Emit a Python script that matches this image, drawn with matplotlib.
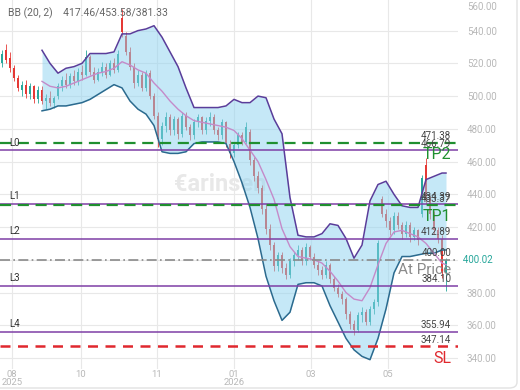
import matplotlib
matplotlib.use("Agg")
import matplotlib.pyplot as plt
from matplotlib.patches import FancyBboxPatch
from matplotlib.transforms import blended_transform_factory

plt.rcParams['font.family'] = ['Roboto', 'DejaVu Sans']

# daily candles (one entry per bar)
opens = [520, 528, 523, 517, 511, 504, 507, 501, 506, 498, 504, 497, 499, 496, 500, 506, 510, 507, 512, 509,
         515, 513, 524, 515, 510, 515, 518, 513, 520, 516, 548, 537, 527, 518, 508, 513, 505, 514, 500, 488,
         474, 482, 487, 479, 486, 477, 488, 481, 476, 484, 487, 479, 485, 487, 479, 476, 484, 471, 465, 470,
         476, 472, 478, 461, 451, 444, 431, 419, 409, 396, 403, 395, 391, 399, 403, 406, 399, 408, 402, 397,
         394, 391, 397, 388, 383, 379, 376, 367, 361, 357, 366, 368, 362, 370, 374, 437, 428, 424, 418, 427,
         421, 416, 421, 414, 418, 428, 458, 437, 428, 418, 413, 392]
highs = [528, 532, 527, 519, 513, 509, 510, 508, 507, 506, 506, 501, 503, 500, 508, 512, 514, 514, 516, 517,
         519, 528, 525, 518, 517, 521, 520, 522, 523, 528, 553, 539, 530, 520, 516, 515, 516, 516, 502, 490,
         484, 490, 489, 488, 487, 490, 490, 483, 486, 489, 488, 487, 490, 489, 481, 486, 485, 473, 472, 478,
         478, 484, 480, 463, 454, 446, 434, 422, 411, 405, 405, 398, 401, 405, 409, 408, 410, 409, 404, 399,
         396, 399, 398, 390, 385, 381, 377, 369, 363, 368, 371, 370, 372, 376, 412, 439, 431, 426, 429, 429,
         423, 424, 423, 420, 419, 452, 462, 439, 430, 420, 415, 401]
lows = [518, 520, 515, 509, 503, 500, 499, 498, 496, 496, 495, 492, 494, 493, 498, 503, 505, 505, 507, 507,
        510, 512, 513, 508, 509, 512, 511, 512, 514, 515, 536, 525, 516, 505, 506, 503, 503, 498, 486, 469,
        470, 478, 476, 476, 474, 475, 479, 473, 474, 481, 477, 477, 482, 477, 473, 474, 469, 462, 463, 468,
        470, 471, 458, 448, 441, 428, 416, 406, 393, 393, 392, 388, 389, 396, 400, 397, 397, 400, 395, 391,
        388, 389, 386, 381, 377, 373, 364, 358, 354, 356, 362, 360, 360, 367, 372, 426, 420, 415, 416, 419,
        413, 414, 411, 412, 409, 426, 434, 425, 416, 410, 389, 381]
closes = [526, 522, 517, 511, 505, 507, 501, 506, 498, 504, 497, 499, 496, 499, 506, 510, 507, 512, 509, 515,
          513, 524, 515, 510, 515, 518, 513, 520, 516, 526, 539, 527, 518, 508, 513, 505, 514, 500, 488, 474,
          482, 487, 479, 486, 477, 488, 481, 476, 484, 487, 479, 485, 487, 479, 476, 484, 471, 465, 470, 476,
          472, 481, 461, 451, 444, 431, 419, 409, 396, 403, 395, 391, 399, 403, 406, 399, 408, 402, 397, 394,
          391, 397, 388, 383, 379, 376, 367, 361, 357, 366, 368, 362, 370, 374, 410, 428, 424, 418, 427, 421,
          416, 421, 414, 418, 412, 450, 437, 428, 418, 413, 392, 400]

# Bollinger band (20, 2), read every second bar
band_x = list(range(10, 111, 2)) + [111]
bb_upper = [528, 520, 514, 517, 518, 520, 526, 526, 526, 527, 538, 538, 540, 541, 543, 536, 527, 518, 505, 493,
            493, 493, 493, 494, 498, 496, 496, 500, 499, 486, 477, 438, 415, 414, 414, 416, 422, 421, 413, 401,
            409, 436, 446, 448, 440, 433, 432, 432, 449, 451, 453, 453]
bb_mid = [509, 506, 505, 506, 508, 510, 512, 514, 515, 517, 521, 519, 516, 514, 508, 503, 497, 492, 488, 485,
          484, 483, 482, 481, 479, 474, 467, 460, 449, 437, 419, 408, 402, 401, 400, 398, 393, 387, 380, 376,
          375, 383, 397, 410, 417, 418, 416, 414, 410, 404, 398, 397]
bb_lower = [491, 492, 494, 494, 495, 496, 498, 501, 504, 507, 505, 497, 492, 489, 482, 466, 465, 465, 466, 471,
            472, 472, 472, 471, 460, 447, 432, 413, 390, 375, 363, 368, 385, 386, 386, 384, 372, 362, 352, 345,
            341, 339, 352, 370, 392, 402, 402, 403, 404, 404, 406, 406]

# horizontal levels
level_vals = [466.79, 434.39, 412.89, 384.10, 355.94]
level_names = ["L0", "L1", "L2", "L3", "L4"]
tp_vals = [471.38, 433.37]
tp_names = ["TP2", "TP1"]
sl_val = 347.14
at_price = 400.00
last_price = 400.02

month_pos = [2.5, 19.75, 38.75, 58, 77.25, 96.5]
month_labels = ["08\n2025", "10", "11", "01\n2026", "03", "05"]
price_ticks = [340, 360, 380, 420, 440, 460, 480, 500, 520, 540]

up_c, down_c = "#26a69a", "#e53935"

fig = plt.figure(figsize=(5.2, 3.9), dpi=100)
ax = fig.add_axes([0, 21 / 390, 458 / 520, 369 / 390])
ax.set_xlim(-0.5, 114)
ax.set_ylim(333.3, 558.7)

for s in ax.spines.values():
    s.set_visible(False)

# grid
for p in month_pos:
    ax.axvline(p, color="#e8e8e8", lw=0.8, zorder=0)
for v in [340, 360, 380, 400, 420, 440, 460, 480, 500, 520, 540]:
    ax.axhline(v, color="#e8e8e8", lw=0.8, zorder=0)

ax.text(0.48, 0.5, "€arinsen", transform=ax.transAxes, fontsize=17, fontweight="bold",
        color="#e8e8e8", ha="center", va="center", zorder=1)

# candles
for i in range(len(closes)):
    o, h, l, c = opens[i], highs[i], lows[i], closes[i]
    col = up_c if c >= o else down_c
    ax.vlines(i, l, h, color=col, lw=0.6, zorder=2)
    ax.bar(i, abs(c - o) if c != o else 0.3, bottom=min(o, c), width=0.4, color=col, lw=0, zorder=2)

# band
ax.fill_between(band_x, bb_lower, bb_upper, color="#8dd3f0", alpha=0.5, lw=0, zorder=3)
ax.plot(band_x, bb_upper, color="#5a3d9a", lw=1.1, zorder=4)
ax.plot(band_x, bb_lower, color="#2b6a8e", lw=1.1, zorder=4)
ax.plot(band_x, bb_mid, color="#c48ac9", lw=1.0, zorder=4)

# levels
trans = blended_transform_factory(ax.transAxes, ax.transData)
for v, name in zip(level_vals, level_names):
    ax.axhline(v, color="#7e3fa6", lw=1.1, zorder=5)
    ax.text(0.02, v + 1.5, name, transform=trans, fontsize=7, color="#333333", va="bottom", zorder=6)
    ax.text(0.985, v + 1.0, f"{v:.2f}", transform=trans, fontsize=7, color="#444444",
            ha="right", va="bottom", zorder=6)
for v, name in zip(tp_vals, tp_names):
    ax.axhline(v, color="#1f8f2f", lw=1.6, ls=(0, (5, 3)), zorder=5)
    ax.text(0.985, v + 1.0, f"{v:.2f}", transform=trans, fontsize=7, color="#444444",
            ha="right", va="bottom", zorder=6)
    ax.text(0.985, v - 2.5, name, transform=trans, fontsize=11.5, color="#1f8f2f",
            ha="right", va="top", zorder=6)
ax.axhline(sl_val, color="#e0282e", lw=1.8, ls=(0, (4, 3)), zorder=5)
ax.text(0.985, sl_val + 1.0, f"{sl_val:.2f}", transform=trans, fontsize=7, color="#444444",
        ha="right", va="bottom", zorder=6)
ax.text(0.985, sl_val - 3.0, "SL", transform=trans, fontsize=11.5, color="#e0282e",
        ha="right", va="top", zorder=6)
ax.axhline(at_price, color="#8a8a8a", lw=1.2, ls=(0, (6, 2, 1, 2)), zorder=5)
ax.text(0.985, at_price + 1.0, f"{at_price:.2f}", transform=trans, fontsize=7, color="#444444",
        ha="right", va="bottom", zorder=6)
ax.text(0.985, at_price - 2.0, "At Price", transform=trans, fontsize=11, color="#8a8a8a",
        ha="right", va="top", zorder=6)

# axes labels
ax.yaxis.tick_right()
ax.set_yticks(price_ticks)
ax.set_yticklabels([f"{t:.2f}" for t in price_ticks])
ax.tick_params(axis="y", length=0, pad=6.5, labelsize=7, labelcolor="#b8b8b8")
ax.set_xticks(month_pos)
ax.set_xticklabels(month_labels, linespacing=0.82)
ax.tick_params(axis="x", length=0, pad=1, labelsize=6.8, labelcolor="#b8b8b8")
ax.text(1.0, last_price, "  " + f"{last_price:.2f}", transform=trans, fontsize=7, color="#26a69a",
        va="center", ha="left", clip_on=False)
fig.text(467 / 520, 1 - 7 / 390, "560.00", fontsize=7, color="#b8b8b8", va="center")

fig.text(8 / 520, 1 - 13 / 390, "BB (20, 2)    417.46/453.58/381.33", fontsize=7.5,
         color="#666666", va="center")

fig.patches.append(FancyBboxPatch((-0.02, 2 / 390), 517 / 520 + 0.02, 1.2,
                                  boxstyle="round,pad=0,rounding_size=0.015",
                                  transform=fig.transFigure, fill=False, ec="#e2e2e2", lw=1))

fig.savefig("out.png", dpi=100)
